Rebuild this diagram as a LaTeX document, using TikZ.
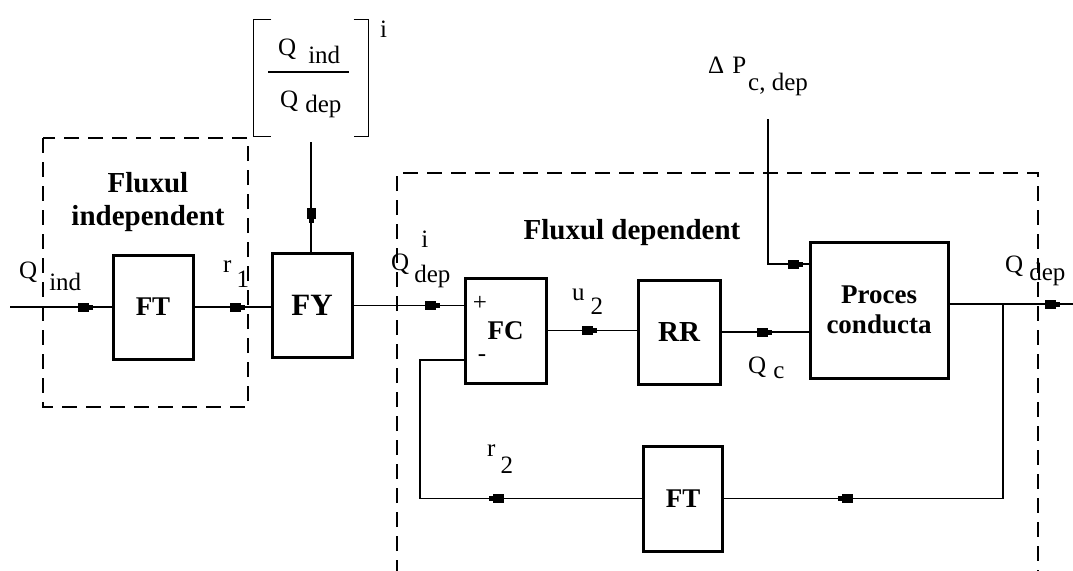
\documentclass[tikz,border=0pt]{standalone}
\usepackage{fontspec}
\setmainfont{Liberation Serif}
\usetikzlibrary{arrows.meta,decorations.markings,calc}
\tikzset{
  blk/.style={draw, line width=3pt, inner sep=0pt, font=\fontsize{27}{33}\selectfont\bfseries},
  wire/.style={line width=1.3pt},
  dashbox/.style={line width=1.3pt, dash pattern=on 15pt off 9pt},
  lab/.style={inner sep=0pt, font=\fontsize{25}{29}\selectfont},
  title/.style={inner sep=0pt, align=center, font=\fontsize{29}{33}\selectfont\bfseries},
  mk/.style={postaction={decorate,decoration={markings,mark=at position #1 with {\arrow[line width=0pt]{Rectangle[length=11pt,width=9pt]Rectangle[length=4pt,width=5pt]}}}}}
}
\begin{document}
\begin{tikzpicture}[x=1pt,y=-1pt]
\useasboundingbox (0,0) rectangle (1073,570);
% dashed regions
\draw[dashbox] (43,138) rectangle (248,407);
\draw[dashbox] (397,575) -- (397,173) -- (1038,173) -- (1038,575);
% blocks
\node[blk, minimum width=80pt, minimum height=104pt] (FTa) at (153,307) {FT};
\node[blk, minimum width=80pt, minimum height=104pt, font=\fontsize{31}{35}\selectfont\bfseries] (FY) at (312,305.5) {FY};
\node[blk, minimum width=81pt, minimum height=105pt] (FC) at (505.5,330.5) {FC};
\node[blk, minimum width=82pt, minimum height=104pt, font=\fontsize{29}{33}\selectfont\bfseries] (RR) at (679,332) {RR};
\node[blk, minimum width=138pt, minimum height=136pt, align=center, font=\fontsize{27}{30}\selectfont\bfseries] (Proc) at (879,310) {Proces\\conducta};
\node[blk, minimum width=79pt, minimum height=105pt] (FTb) at (683,498.5) {FT};
% ratio block
\node[minimum width=115pt, minimum height=116pt, inner sep=0pt] (ratio) at (311,78) {};
\draw[wire] ([xshift=18pt]ratio.north west) -- (ratio.north west) -- (ratio.south west) -- ([xshift=18pt]ratio.south west);
\draw[wire] ([xshift=-15pt]ratio.north east) -- (ratio.north east) -- (ratio.south east) -- ([xshift=-15pt]ratio.south east);
\draw[wire] (268,72) -- (349,72);
\node[lab, anchor=base west] (num) at (278,55) {Q\hspace{12pt}\raisebox{-8pt}{ind}};
\node[lab, anchor=base west] (den) at (280,107) {Q\hspace{7pt}\raisebox{-5pt}{dep}};
\node[lab, anchor=base west] (rexp) at (380,37) {i};
% titles
\node[title] (tind) at (148,202) {Fluxul\\independent};
\node[title, anchor=base] (tdep) at (632,239) {Fluxul dependent};
% coordinates
\coordinate (qin) at (10,307);
\coordinate (dptop) at (768,119);
\coordinate (br) at (1003,304);
\coordinate (qout) at (1073,304);
\coordinate (fbl) at (420,498.5);
% connectors
\draw[wire, mk=83pt] (qin) -- (qin -| FTa.west);
\draw[wire, mk=50pt] (FTa.east) -- (FTa.east -| FY.west);
\draw[wire, mk=81pt] ([yshift=-6pt]ratio.south) -- (ratio.south |- FY.north);
\draw[wire, mk=86pt] (FY.east) -- (FY.east -| FC.west);
\draw[wire, mk=49pt] (FC.east) -- (FC.east -| RR.west);
\draw[wire, mk=50pt] (RR.east) -- (RR.east -| Proc.west);
\draw[wire, mk=180pt] (dptop) |- ([yshift=46pt]Proc.west);
\draw[wire, mk=110pt] ([yshift=6pt]Proc.east) -- (qout);
\draw[wire, mk=360pt] (br) |- (FTb.east);
\draw[wire, mk=153pt] (FTb.west) -- (fbl) |- ([yshift=-29.5pt]FC.west);
% signs
\node[lab] (plus) at (480,303) {+};
\node[lab] (minus) at (482,358) {-};
% labels
\node[lab, anchor=base west] (lqind) at (19,278) {Q\hspace{12pt}\raisebox{-12pt}{ind}};
\node[lab, anchor=base west] (lr1) at (223,272) {r\hspace{5pt}\raisebox{-15pt}{1}};
\node[lab, anchor=base west] (lqdepi) at (391,270) {Q\hspace{5pt}\rlap{\hspace{7pt}\raisebox{23pt}{i}}\raisebox{-12pt}{dep}};
\node[lab, anchor=base west] (lu2) at (572,300) {u\hspace{6pt}\raisebox{-14pt}{2}};
\node[lab, anchor=base west] (lqc) at (748,373) {Q\hspace{7pt}\raisebox{-5pt}{c}};
\node[lab, anchor=base west] (ldp) at (708,73) {Δ\hspace{8pt}P\hspace{2pt}\raisebox{-17pt}{c, dep}};
\node[lab, anchor=base west] (lqdep) at (1005,272) {Q\hspace{6pt}\raisebox{-8pt}{dep}};
\node[lab, anchor=base west] (lr2) at (487,456) {r\hspace{5pt}\raisebox{-17pt}{2}};
\end{tikzpicture}
\end{document}
